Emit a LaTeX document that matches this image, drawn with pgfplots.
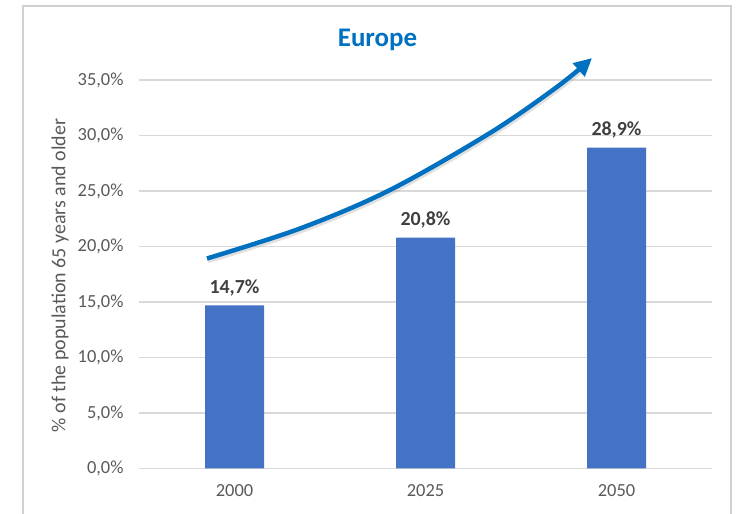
\documentclass[border=0pt]{standalone}
\usepackage{pgfplots}
\pgfplotsset{compat=1.18}
\usepackage{fontspec}
\setmainfont{Carlito}
\usetikzlibrary{arrows.meta}
\definecolor{barblue}{HTML}{4472C4}
\definecolor{arrowblue}{HTML}{0070C0}
\definecolor{ticktext}{HTML}{595959}
\definecolor{labtext}{HTML}{404040}
\definecolor{gridgray}{HTML}{D9D9D9}
\definecolor{framegray}{HTML}{D0D0D0}
\begin{document}
\begin{tikzpicture}
\useasboundingbox (0bp,0bp) rectangle (736bp,514bp);
\draw[color=framegray, line width=1.5bp] (23bp,-2bp) -- (23bp,508bp) -- (731bp,508bp) -- (731bp,-2bp);
\begin{axis}[
  at={(139bp,45.5bp)}, anchor=south west,
  scale only axis, width=573bp, height=388.5bp,
  xmin=-0.5, xmax=2.5, ymin=0, ymax=35,
  enlargelimits=false, clip=false,
  axis line style={draw=none},
  major tick length=0pt,
  ymajorgrids, grid style={color=gridgray, line width=1.2bp},
  ytick={0,5,10,15,20,25,30,35},
  xtick={0,1,2}, xticklabels={2000,2025,2050},
  /pgf/number format/assume math mode=true,
  yticklabel={\pgfmathprintnumber[fixed,fixed zerofill,precision=1,use comma]{\tick}\%},
  yticklabel style={color=ticktext, font=\fontsize{18.5}{21}\selectfont, anchor=east, xshift=-12bp},
  xticklabel style={color=ticktext, font=\fontsize{18.5}{21}\selectfont, anchor=north, yshift=-13bp},
]
\addplot[ybar, bar width=59bp, fill=barblue, draw=none,
  nodes near coords={\pgfmathprintnumber[fixed,fixed zerofill,precision=1,use comma]{\pgfplotspointmeta}\%},
  every node near coord/.append style={font=\bfseries\fontsize{20}{23}\selectfont, color=labtext, anchor=base, yshift=12bp},
] coordinates {(0,14.7) (1,20.8) (2,28.9)};
\addplot[smooth, tension=0.55, color=black!35, opacity=0.35, line width=5bp, shorten >=16bp] coordinates {
  (-0.139,18.72) (0.348,21.42) (0.819,24.89) (1.343,30.03) (1.693,34.17) (1.877,36.78)
};
\addplot[smooth, tension=0.55, color=arrowblue, line width=4.5bp, -{Triangle[length=18bp,width=17bp]}] coordinates {
  (-0.144,18.92) (0.343,21.62) (0.814,25.09) (1.338,30.23) (1.688,34.37) (1.872,36.98)
};
\end{axis}
\node[anchor=base, color=arrowblue, font=\bfseries\fontsize{27}{30}\selectfont] at (377.5bp,467bp) {Europe};
\node[rotate=90, color=ticktext, font=\fontsize{20}{24}\selectfont] at (60bp,238.5bp) {\% of the population 65 years and older};
\end{tikzpicture}
\end{document}
